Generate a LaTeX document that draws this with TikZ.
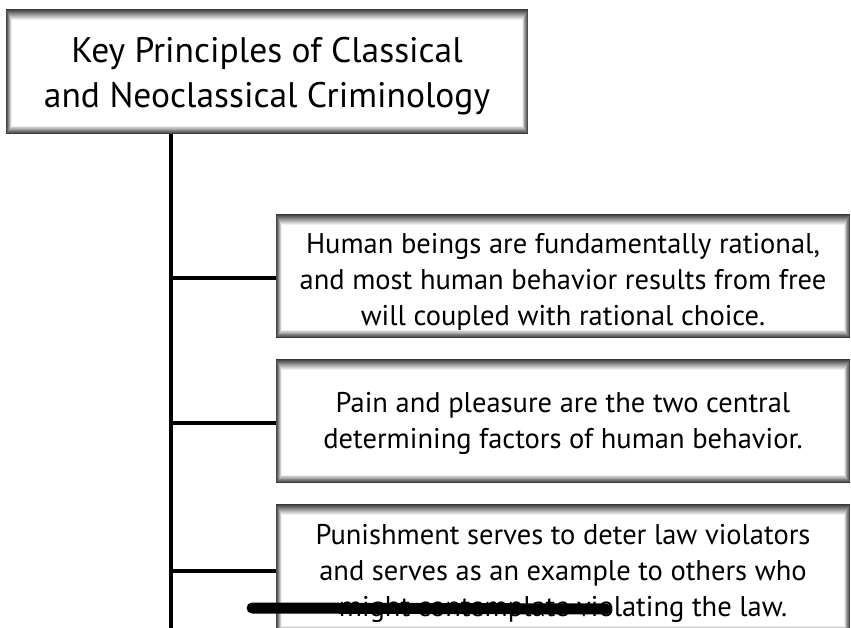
\documentclass[tikz,border=0pt]{standalone}
\usepackage{fontspec}
\setmainfont{PT Sans}
\usetikzlibrary{positioning}

\tikzset{
  principle/.style={draw=black!55, line width=1.2pt, fill=white,
    inner sep=0pt, minimum width=572pt, minimum height=122pt},
  heading/.style={principle, minimum width=520pt, minimum height=123pt},
  boxtext/.style={align=center, inner sep=0pt, font=\fontsize{28.5}{36}\selectfont},
  headtext/.style={boxtext, font=\fontsize{35.5}{45}\selectfont},
  link/.style={line width=3.2pt}
}
\newcommand{\innershade}[1]{%
  \foreach \i in {0,...,10} {
    \pgfmathsetmacro{\tone}{78-7.2*\i}
    \draw[black!\tone, line width=1.1pt]
      ([shift={(0.55*\i pt,-1.05*\i pt)}]#1.north west) rectangle ([shift={(-0.55*\i pt,0.75*\i pt)}]#1.south east);
  }
}

\begin{document}
\begin{tikzpicture}[x=1pt, y=-1pt]
  \useasboundingbox[fill=white] (0,0) rectangle (851,628);
  \node[heading, label={[headtext, yshift=-5pt]center:{Key Principles of Classical\\and Neoclassical Criminology}}] (title) at (267,71.5) {};
  \node[principle, label={[boxtext, yshift=-6pt]center:{Human beings are fundamentally rational,\\and most human behavior results from free\\will coupled with rational choice.}}] (p1) at (563,276) {};
  \node[principle, label={[boxtext, yshift=-2pt]center:{Pain and pleasure are the two central\\determining factors of human behavior.}}] (p2) at (563,421) {};
  \node[principle, minimum height=128pt, label={[boxtext, yshift=-4pt]center:{Punishment serves to deter law violators\\and serves as an example to others who\\might contemplate violating the law.}}] (p3) at (563,569) {};
  \foreach \n in {title,p1,p2,p3} { \innershade{\n} }
  \coordinate (spinebottom) at (171,628);
  \draw[link] (title.south -| spinebottom) -- (spinebottom);
  \foreach \n in {p1,p2,p3} {
    \draw[link] ([yshift=-2pt]\n.west -| spinebottom) -- ([yshift=-2pt]\n.west);
  }
  \draw[line width=11pt, line cap=round] (252,608) -- (606,609);
\end{tikzpicture}
\end{document}
